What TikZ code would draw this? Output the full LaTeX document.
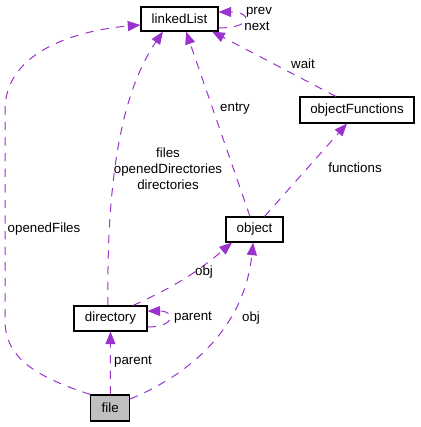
\documentclass[tikz,border=0pt]{standalone}
\usepackage{fontspec}
\setmainfont{Liberation Sans}
\usetikzlibrary{arrows.meta}
\definecolor{edgecol}{HTML}{9A32CD}
\tikzset{
  cls/.style={draw, line width=0.8pt, inner sep=0pt, font=\fontsize{10}{12}\selectfont},
  rel/.style={draw, edgecol, line width=0.75pt, dash pattern=on 6.2pt off 5.5pt,
    -{Triangle[length=9.5pt,width=7.5pt]}},
  lbl/.style={font=\fontsize{10}{12}\selectfont, inner sep=0pt, align=center}
}
\begin{document}
\begin{tikzpicture}[x=0.75pt,y=-0.75pt]
\useasboundingbox (0,0) rectangle (420,427);
% classes
\node[cls, minimum width=57.75pt, minimum height=18pt] (linkedList) at (179.5,19) {linkedList};
\node[cls, minimum width=85.5pt, minimum height=19.5pt] (objectFunctions) at (357,110) {objectFunctions};
\node[cls, minimum width=42.75pt, minimum height=18.75pt] (object) at (254.5,229.5) {object};
\node[cls, minimum width=54.75pt, minimum height=18.75pt] (directory) at (110.5,318.5) {directory};
\node[cls, fill=black!25, minimum width=29pt, minimum height=19.5pt] (file) at (110.25,408) {file};
% relations
\path[rel] ([yshift=-6.75pt]linkedList.east) to[out=0,in=0,looseness=5.5] ([yshift=5.25pt]linkedList.east);
\path[rel] ([xshift=-15.75pt]objectFunctions.north) -- ([xshift=24.4pt]linkedList.south);
\path[rel] ([xshift=-3.4pt]object.north) -- ([xshift=4.9pt]linkedList.south);
\path[rel] ([xshift=7.5pt]object.north) -- ([xshift=-7.5pt]objectFunctions.south);
\path[rel] ([xshift=-1.9pt]directory.north) .. controls (106,150) and (130,80) .. ([xshift=-12.4pt]linkedList.south);
\path[rel] ([xshift=16.9pt]directory.north) to[bend right=8] ([xshift=-16.9pt]object.south);
\path[rel] ([yshift=-6.4pt]directory.east) to[out=0,in=0,looseness=4.5] ([yshift=5.6pt]directory.east);
\path[rel] (file.north) -- (directory.south);
\path[rel] ([yshift=6.75pt]file.east) .. controls (200,370) and (245,320) .. ([xshift=-1pt]object.south);
\path[rel] (file.north west) .. controls (30,375) and (5,355) .. (5,320) -- (5,110)
  .. controls (5,50) and (80,30) .. ([yshift=-4.5pt]linkedList.west);
% labels
\node[lbl] (prevlbl) at (259,12) {prev};
\node[lbl] (nextlbl) at (257,26) {next};
\node[lbl] (waitlbl) at (303,64) {wait};
\node[lbl] (entrylbl) at (235,109) {entry};
\node[lbl] (funclbl) at (355,168) {functions};
\node[lbl] (fileslbl) at (168,169) {files\\openedDirectories\\directories};
\node[lbl] (openlbl) at (44,229) {openedFiles};
\node[lbl] (objlbla) at (204,272) {obj};
\node[lbl] (dparlbl) at (193,318) {parent};
\node[lbl] (objlblb) at (251,318) {obj};
\node[lbl] (fparlbl) at (133,362) {parent};
\end{tikzpicture}
\end{document}
